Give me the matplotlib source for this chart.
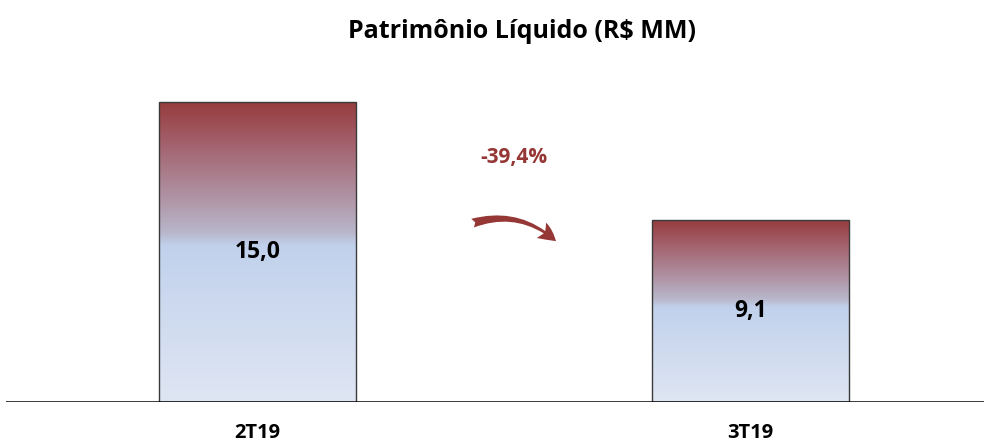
import numpy as np
import matplotlib.pyplot as plt
from matplotlib.colors import LinearSegmentedColormap
from matplotlib.patches import FancyArrowPatch

categories = ["2T19", "3T19"]
values = [15.0, 9.1]
value_labels = ["15,0", "9,1"]
change_label = "-39,4%"
title = "Patrimônio Líquido (R$ MM)"

FONT = "Open Sans"
RED = "#953735"

fig = plt.figure(figsize=(9.84, 4.44), dpi=100)
ax = fig.add_axes([6/984, 42/444, 978/984, 342/444])
ax.set_xlim(-0.51, 1.474)
ax.set_ylim(0, 342/20)

# gradient: 0 = bottom, 1 = top
cmap = LinearSegmentedColormap.from_list("grad", [
    (0.00, "#DFE6F3"),
    (0.52, "#C1D1EC"),
    (0.56, "#B9B8CC"),
    (0.70, "#AE8E9E"),
    (0.85, "#A46470"),
    (1.00, "#963B3D"),
])
grad = np.linspace(0, 1, 256).reshape(-1, 1)

x = np.arange(len(categories))
bars = ax.bar(x, values, width=0.4, color="none", edgecolor="#3A3A3A", linewidth=1.0, zorder=3)
for b in bars:
    x0, y0, w, h = b.get_x(), b.get_y(), b.get_width(), b.get_height()
    im = ax.imshow(grad, cmap=cmap, extent=[x0, x0 + w, y0, y0 + h],
                   origin="lower", aspect="auto", zorder=2, interpolation="bicubic")
    im.set_clip_path(b)

for xi, v, lab in zip(x, values, value_labels):
    ax.text(xi, v / 2, lab, ha="center", va="center", fontsize=16.5,
            fontweight="bold", family=FONT, color="black", zorder=4)

ax.axhline(0, color="black", linewidth=1.8, zorder=5)
for s in ax.spines.values():
    s.set_visible(False)
ax.set_xticks([])
ax.set_yticks([])
ax.set_xlim(-0.51, 1.474)

for xi, c in zip(x, categories):
    ax.annotate(c, (xi, 0), xytext=(0, -22), textcoords="offset points",
                ha="center", va="center", fontsize=14.5, fontweight="bold",
                family=FONT, annotation_clip=False)

fig.text(522/984, 1 - 32/444, title, ha="center", va="center", fontsize=18,
         fontweight="bold", family=FONT)

# change annotation
fig.text(514/984, 1 - 158/444, change_label, ha="center", va="center",
         fontsize=15, fontweight="bold", family=FONT, color=RED)
arrow = FancyArrowPatch((470/984, 1 - 224/444), (558/984, 1 - 243/444),
                        transform=fig.transFigure,
                        connectionstyle="arc3,rad=-0.3",
                        arrowstyle="fancy,head_length=10,head_width=10,tail_width=5",
                        color=RED, linewidth=0, mutation_scale=1.3)
fig.patches.append(arrow)

fig.savefig("out.png", dpi=100)
